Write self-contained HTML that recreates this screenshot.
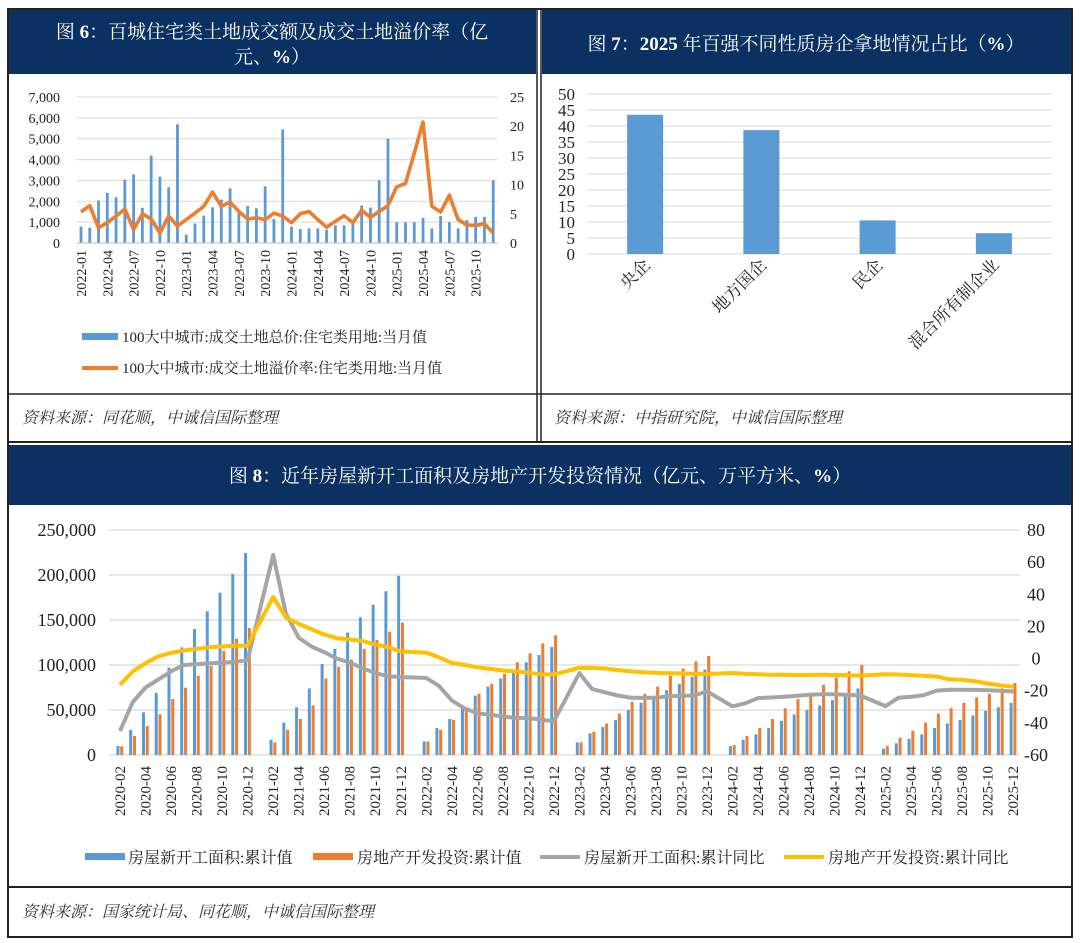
<!DOCTYPE html>
<html><head><meta charset="utf-8"><style>
html,body{margin:0;padding:0;background:#fff;}
svg{display:block;font-family:"Liberation Serif","Noto Serif CJK SC",serif;}
</style></head><body>
<svg id="s" width="1080" height="943" viewBox="0 0 1080 943" xmlns="http://www.w3.org/2000/svg">
<rect x="0" y="0" width="1080" height="943" fill="#fff"/>
<rect x="8" y="9" width="1064" height="928" fill="none" stroke="#222" stroke-width="2"/>
<line x1="537" y1="9" x2="537" y2="441" stroke="#222" stroke-width="1.5"/>
<line x1="541" y1="9" x2="541" y2="441" stroke="#222" stroke-width="1.5"/>
<line x1="8" y1="394" x2="1072" y2="394" stroke="#222" stroke-width="1.5"/>
<line x1="8" y1="442" x2="1072" y2="442" stroke="#222" stroke-width="2"/>
<line x1="8" y1="887" x2="1072" y2="887" stroke="#222" stroke-width="2"/>
<rect x="9" y="10" width="527" height="64" fill="#0b3163"/>
<rect x="542" y="10" width="529" height="64" fill="#0b3163"/>
<rect x="9" y="445" width="1062" height="60" fill="#0b3163"/>
<text x="272" y="38" fill="#fff" font-size="19" text-anchor="middle">图 <tspan font-weight="bold">6</tspan>：百城住宅类土地成交额及成交土地溢价率（亿</text>
<text x="272" y="63" fill="#fff" font-size="19" text-anchor="middle">元、<tspan font-weight="bold">%</tspan>）</text>
<text x="806" y="50" fill="#fff" font-size="19" text-anchor="middle">图 <tspan font-weight="bold">7</tspan>：<tspan font-weight="bold">2025</tspan> 年百强不同性质房企拿地情况占比（<tspan font-weight="bold">%</tspan>）</text>
<text x="540" y="482" fill="#fff" font-size="19" text-anchor="middle">图 <tspan font-weight="bold">8</tspan>：近年房屋新开工面积及房地产开发投资情况（亿元、万平方米、<tspan font-weight="bold">%</tspan>）</text>
<text x="22" y="423" font-size="16" font-style="italic" fill="#333">资料来源：同花顺，中诚信国际整理</text>
<text x="554" y="423" font-size="16" font-style="italic" fill="#333">资料来源：中指研究院，中诚信国际整理</text>
<text x="22" y="917" font-size="16" font-style="italic" fill="#333">资料来源：国家统计局、同花顺，中诚信国际整理</text>
<g id="c6"></g>
<g id="c7"></g>
<g id="c8"></g>
</svg>
<script>
const NS="http://www.w3.org/2000/svg";
function mk(p,tag,attrs,txt){const e=document.createElementNS(NS,tag);for(const k in attrs)e.setAttribute(k,attrs[k]);if(txt!==undefined)e.textContent=txt;p.appendChild(e);return e;}

const c6Months=[];for(let y=2022;y<=2025;y++)for(let m=1;m<=12;m++)c6Months.push(y+"-"+String(m).padStart(2,"0"));
const c6Amount=[780,735,2040,2400,2190,3035,3290,1690,4190,3180,2670,5690,400,930,1310,1710,2080,2620,1440,1770,1660,2720,1150,5450,780,670,700,700,640,850,850,1000,1800,1700,3000,5000,1000,1000,1000,1200,700,1300,1000,700,1100,1250,1250,3000];
const c6Premium=[5.3,6.4,2.6,3.5,4.6,5.8,2.3,5.0,4.1,1.7,4.6,2.9,4.0,5.1,6.3,8.7,6.3,7.0,5.4,4.1,4.3,4.0,5.1,4.6,3.5,5.0,5.4,4.0,2.7,3.7,4.7,3.5,5.6,4.4,5.4,6.4,9.6,10.2,15.4,20.7,6.3,5.3,8.2,4.0,3.1,3.0,3.3,1.7];
const c6LeftTicks=[0,1000,2000,3000,4000,5000,6000,7000];
const c6RightTicks=[0,5,10,15,20,25];
const c7Cats=["央企","地方国企","民企","混合所有制企业"];
const c7Vals=[43.5,38.7,10.5,6.5];
const c7Ticks=[0,5,10,15,20,25,30,35,40,45,50];
// axis slots: Jan..Dec 2020-2025 (Jan has no data)
const c8Slots=[];for(let y=2020;y<=2025;y++)for(let m=1;m<=12;m++)c8Slots.push(y+"-"+String(m).padStart(2,"0"));
const c8Months=[];for(let y=2020;y<=2025;y++)for(let m=2;m<=12;m++)c8Months.push(y+"-"+String(m).padStart(2,"0"));
const c8Starts=[10000,27800,47400,69000,97000,119600,140000,159600,180400,201000,224400,
17000,36000,53000,74000,101000,118000,136000,153000,167000,182000,199000,
15000,30000,40000,52000,66000,76000,85000,95000,103000,111000,120000,
14000,24000,31000,39000,50000,58000,66000,72000,79000,87000,95000,
10000,17000,23000,30000,38000,45000,50000,55000,61000,67000,74000,
7000,13000,18000,23000,30000,35000,39000,44000,49000,53000,58000];
const c8Invest=[9600,21100,32200,45200,62200,74800,88100,98900,115900,129300,141100,
14000,28000,40000,55000,85000,98000,106000,118000,128000,137000,147000,
15000,28000,39000,52000,68000,79000,90000,103000,113000,124000,133000,
14000,26000,35000,46000,59000,68000,76000,88000,96000,104000,110000,
11000,21000,30000,40000,52000,62000,69000,78000,86000,93000,100000,
10000,19000,27000,36000,46000,52000,58000,64000,68000,74000,80000];
const c8StartsYoY=[-45,-27,-18,-13,-8,-4,-3.5,-3,-2.5,-2,-1,
64.5,28,13,7.5,4,0,-2.5,-6,-9,-11,-11.5,
-12,-17,-26,-31,-34,-35,-36,-37,-37,-38,-39,
-9,-19,-21,-23,-24.3,-24.5,-24.4,-23.4,-23.2,-23,-20.4,
-29.7,-27.8,-24.6,-24.2,-23.7,-23.2,-22.5,-22.2,-22.2,-22.6,-23,
-29.6,-24.4,-23.8,-22.7,-19.9,-19.4,-19.4,-19.5,-19.7,-20,-20.5];
const c8InvestYoY=[-16.3,-8,-2.8,1.4,3.5,5,6,7,7.6,8,8,
38.3,25.6,21.6,18.3,15,12.7,11.9,10.9,8.8,7.2,4.4,
3.7,0.7,-2.7,-4,-5.4,-6.4,-7.4,-8,-8.8,-9.8,-10,
-5.7,-5.8,-6.2,-7.2,-7.9,-8.5,-8.8,-9.1,-9.3,-9.4,-9.6,
-9,-9.5,-9.8,-10.1,-10.1,-10.2,-10.2,-10.1,-10.2,-10.3,-10.6,
-9.8,-9.9,-10.3,-10.7,-11.2,-12.9,-13.3,-14.1,-15.5,-16.7,-17.5];
const c8LeftTicks=[0,50000,100000,150000,200000,250000];
const c8RightTicks=[-60,-40,-20,0,20,40,60,80];

const fmt=v=>v.toLocaleString("en-US");

(function(){
const g=document.getElementById("c6");
const L=76.6,R=497.6,Y0=243,Y1=97;
const bw=(R-L)/c6Months.length;
const yL=v=>Y0-(v/7000)*(Y0-Y1), yR=v=>Y0-(v/25)*(Y0-Y1), xc=i=>L+bw*(i+0.5);
c6LeftTicks.forEach(t=>{
  const gl=mk(g,"line",{x1:L,x2:R,y1:yL(t),y2:yL(t),stroke:"#d9d9d9","stroke-width":1});
  
  
  const tx=mk(g,"text",{x:60,y:yL(t)+5,"font-size":14,"text-anchor":"end",fill:"#222"},fmt(t));
  
  
});
c6RightTicks.forEach(t=>{
  const tx=mk(g,"text",{x:510,y:yR(t)+5,"font-size":14,fill:"#222"},t);
  
  
});
c6Amount.forEach((v,i)=>{
  const r=mk(g,"rect",{x:xc(i)-1.4,y:yL(v),width:2.8,height:Y0-yL(v),fill:"#5b9bd5"});
  
  
});
mk(g,"line",{x1:L,x2:R,y1:Y0,y2:Y0,stroke:"#bfbfbf"});
const pts=c6Premium.map((v,i)=>xc(i).toFixed(1)+","+yR(v).toFixed(1)).join(" ");
const pl=mk(g,"polyline",{points:pts,fill:"none",stroke:"#ed7d31","stroke-width":3.6,"stroke-linejoin":"round"});


c6Months.forEach((m,i)=>{ if(i%3) return;
  const tx=mk(g,"text",{transform:`translate(${xc(i)+5},${250}) rotate(-90)`,"font-size":14,"text-anchor":"end",fill:"#222"},m);
  
  
});
const lg1=mk(g,"rect",{x:82,y:333,width:36,height:7,fill:"#5b9bd5"});


const lt1=mk(g,"text",{x:122,y:342,"font-size":15,fill:"#222"},"100大中城市:成交土地总价:住宅类用地:当月值");


const lg2=mk(g,"line",{x1:82,x2:118,y1:368,y2:368,stroke:"#ed7d31","stroke-width":4});


const lt2=mk(g,"text",{x:122,y:373,"font-size":15,fill:"#222"},"100大中城市:成交土地溢价率:住宅类用地:当月值");


})();

(function(){
const g=document.getElementById("c7");
const L=587,R=1052,Y0=254,Y1=94;
const bw=(R-L)/c7Cats.length;
const y=v=>Y0-(v/50)*(Y0-Y1), xc=i=>L+bw*(i+0.5);
c7Ticks.forEach(t=>{
  const gl=mk(g,"line",{x1:L,x2:R,y1:y(t),y2:y(t),stroke:"#d9d9d9"});
  
  
  const tx=mk(g,"text",{x:575,y:y(t)+6,"font-size":17,"text-anchor":"end",fill:"#222"},t);
  
  
});
c7Vals.forEach((v,i)=>{
  const r=mk(g,"rect",{x:xc(i)-18,y:y(v),width:36,height:Y0-y(v),fill:"#5b9bd5"});
  
  
  const tx=mk(g,"text",{transform:`translate(${xc(i)+6},${266}) rotate(-45)`,"font-size":17,"text-anchor":"end",fill:"#222"},c7Cats[i]);
  
  
});
})();

(function(){
const g=document.getElementById("c8");
const L=100.9,R=1019.6,Y0=755,Y1=530;
const bw=(R-L)/c8Slots.length;
const yL=v=>Y0-(v/250000)*(Y0-Y1), yR=v=>Y1+((80-v)/140)*(Y0-Y1);
const xs=s=>L+bw*(s+0.5);
const xc=i=>xs(c8Slots.indexOf(c8Months[i]));
c8LeftTicks.forEach(t=>{
  const gl=mk(g,"line",{x1:L+8,x2:R,y1:yL(t),y2:yL(t),stroke:"#d9d9d9","stroke-width":1.2});
  
  
  const tx=mk(g,"text",{x:96,y:yL(t)+6,"font-size":18,"text-anchor":"end",fill:"#222"},fmt(t));
  
  
});
c8RightTicks.forEach(t=>{
  const tx=mk(g,"text",{x:1036,y:yR(t)+6,"font-size":18,"text-anchor":"middle",fill:"#222"},t);
  
  
});
c8Starts.forEach((v,i)=>{
  const r=mk(g,"rect",{x:xc(i)-3.6,y:yL(v),width:3,height:Y0-yL(v),fill:"#5b9bd5"});
  
  
});
c8Invest.forEach((v,i)=>{
  const r=mk(g,"rect",{x:xc(i)+0.2,y:yL(v),width:3,height:Y0-yL(v),fill:"#ed7d31"});
  
  
});
const p1=mk(g,"polyline",{points:c8StartsYoY.map((v,i)=>xc(i).toFixed(1)+","+yR(v).toFixed(1)).join(" "),fill:"none",stroke:"#a5a5a5","stroke-width":4,"stroke-linejoin":"round"});


const p2=mk(g,"polyline",{points:c8InvestYoY.map((v,i)=>xc(i).toFixed(1)+","+yR(v).toFixed(1)).join(" "),fill:"none",stroke:"#ffc000","stroke-width":4,"stroke-linejoin":"round"});


c8Slots.forEach((m,s)=>{ if(s%2===0) return;
  const tx=mk(g,"text",{transform:`translate(${xs(s)+5},${766}) rotate(-90)`,"font-size":15,"text-anchor":"end",fill:"#222"},m);
  
  
});
const s1=mk(g,"rect",{x:85,y:853,width:40,height:7,fill:"#5b9bd5"});


const t1=mk(g,"text",{x:128,y:863,"font-size":16,fill:"#222"},"房屋新开工面积:累计值");


const s2=mk(g,"rect",{x:313,y:853,width:40,height:7,fill:"#ed7d31"});


const t2=mk(g,"text",{x:357,y:863,"font-size":16,fill:"#222"},"房地产开发投资:累计值");


const s3=mk(g,"line",{x1:540,x2:580,y1:857,y2:857,stroke:"#a5a5a5","stroke-width":4});


const t3=mk(g,"text",{x:584,y:863,"font-size":16,fill:"#222"},"房屋新开工面积:累计同比");


const s4=mk(g,"line",{x1:784,x2:824,y1:857,y2:857,stroke:"#ffc000","stroke-width":4});


const t4=mk(g,"text",{x:828,y:863,"font-size":16,fill:"#222"},"房地产开发投资:累计同比");


})();
</script>
</body></html>
